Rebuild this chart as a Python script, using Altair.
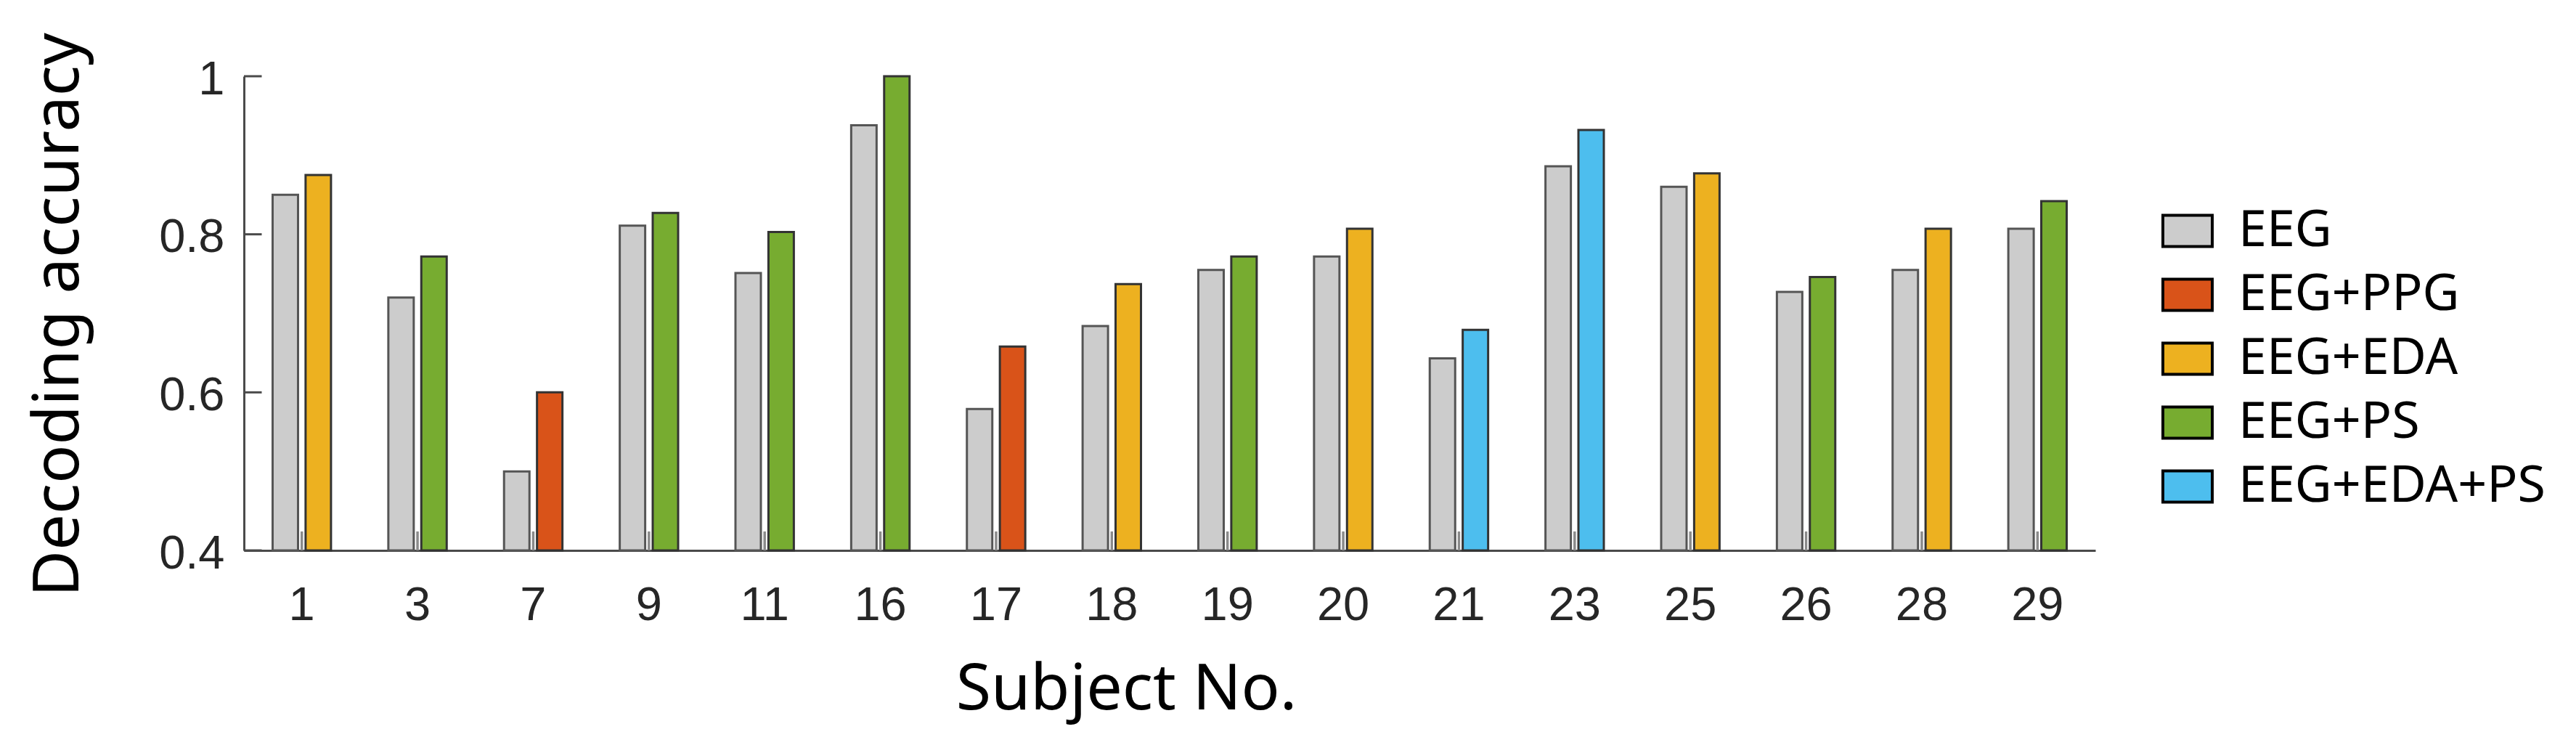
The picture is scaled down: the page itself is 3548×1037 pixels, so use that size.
import altair as alt
import pandas as pd

# ---- data ----
subjects = ["1", "3", "7", "9", "11", "16", "17", "18", "19", "20", "21", "23", "25", "26", "28", "29"]
eeg_acc = [0.850, 0.720, 0.500, 0.811, 0.751, 0.938, 0.579, 0.684, 0.755, 0.772, 0.643, 0.886, 0.860, 0.727, 0.755, 0.807]
combo_method = ["EEG+EDA", "EEG+PS", "EEG+PPG", "EEG+PS", "EEG+PS", "EEG+PS", "EEG+PPG", "EEG+EDA",
                "EEG+PS", "EEG+EDA", "EEG+EDA+PS", "EEG+EDA+PS", "EEG+EDA", "EEG+PS", "EEG+EDA", "EEG+PS"]
combo_acc = [0.875, 0.772, 0.600, 0.827, 0.803, 1.000, 0.658, 0.737, 0.772, 0.807, 0.679, 0.932, 0.877, 0.746, 0.807, 0.842]

methods = ["EEG", "EEG+PPG", "EEG+EDA", "EEG+PS", "EEG+EDA+PS"]
method_colors = ["#CCCCCC", "#D95319", "#EDB120", "#77AC30", "#4DBEEE"]
y_ticks = [0.4, 0.6, 0.8, 1.0]
y_min, y_max = 0.4, 1.0
x_tick_len = 0.024  # inward x tick length in data units

rows = []
for s, e, m, c in zip(subjects, eeg_acc, combo_method, combo_acc):
    rows.append({"subject": s, "slot": 0, "method": "EEG", "acc": e})
    rows.append({"subject": s, "slot": 1, "method": m, "acc": c})
df = pd.DataFrame(rows)

axis_color = "#4a4a4a"
x_scale = alt.Scale(domain=subjects, paddingInner=0.4955, paddingOuter=0.24775)
y_scale = alt.Scale(domain=[y_min, y_max], zero=False, nice=False)

x_axis = alt.Axis(title="Subject No.", titleFont="Noto Sans", titleFontSize=88,
                  titleFontWeight="normal", titleColor="black",
                  titleX=1215, titleY=218, titleAlign="center", titleBaseline="alphabetic",
                  labelFont="Liberation Sans", labelFontSize=65, labelColor="#262626",
                  labelAngle=0, labelBaseline="alphabetic", labelPadding=95,
                  tickSize=0, tickOpacity=0, domainColor=axis_color, domainWidth=3,
                  grid=False)
y_axis = alt.Axis(title="Decoding accuracy", values=y_ticks, format=".1~f",
                  titleFont="Noto Sans", titleFontSize=88, titleFontWeight="normal",
                  titleColor="black", titleAngle=270, titleX=-229, titleY=328,
                  titleAlign="center", titleBaseline="alphabetic",
                  labelFont="Liberation Sans", labelFontSize=65, labelColor="#262626",
                  labelPadding=27, labelOffset=4,
                  tickSize=0, tickOpacity=0, domainColor=axis_color, domainWidth=3,
                  grid=False)

bars = alt.Chart(df).mark_bar(strokeWidth=3).encode(
    x=alt.X("subject:N", sort=subjects, scale=x_scale, axis=x_axis),
    xOffset=alt.XOffset("slot:O", scale=alt.Scale(paddingInner=0.229, paddingOuter=0)),
    y=alt.Y("acc:Q", scale=y_scale, axis=y_axis),
    y2=alt.datum(y_min),
    fill=alt.Fill("method:N", scale=alt.Scale(domain=methods, range=method_colors),
                  legend=alt.Legend(title=None, orient="none", legendX=2641, legendY=177,
                                    symbolType="M-1,-0.632L1,-0.632L1,0.632L-1,0.632Z",
                                    symbolSize=4624, symbolStrokeColor="black",
                                    symbolStrokeWidth=4, symbolOpacity=1,
                                    labelFont="Noto Sans", labelFontSize=70, labelColor="black",
                                    labelOffset=34, rowPadding=17, padding=0,
                                    labelLimit=1000)),
    stroke=alt.condition(alt.datum.method == "EEG", alt.value("#555555"), alt.value("#333333")),
)

x_ticks = alt.Chart(pd.DataFrame({"subject": subjects, "acc": [y_min] * len(subjects),
                                  "hi": [y_min + x_tick_len] * len(subjects)})).mark_rule(
    color="#8a8a8a", strokeWidth=3.5
).encode(
    x=alt.X("subject:N", sort=subjects, scale=x_scale, axis=x_axis),
    y=alt.Y("acc:Q", scale=y_scale, axis=y_axis),
    y2="hi:Q",
)

y_tick_marks = alt.Chart(pd.DataFrame({"acc": y_ticks})).mark_rule(
    color=axis_color, strokeWidth=3
).encode(
    y=alt.Y("acc:Q", scale=y_scale, axis=y_axis),
    x=alt.value(0),
    x2=alt.value(24.5),
)

chart = alt.layer(x_ticks, bars, y_tick_marks).properties(
    width=2550, height=653,
    autosize=alt.AutoSizeParams(type="none"),
    padding={"left": 328, "top": 97, "right": 640, "bottom": 270},
    background="white",
).configure_view(stroke=None)

chart.save("out.html", embed_options={"renderer": "svg", "actions": False})
